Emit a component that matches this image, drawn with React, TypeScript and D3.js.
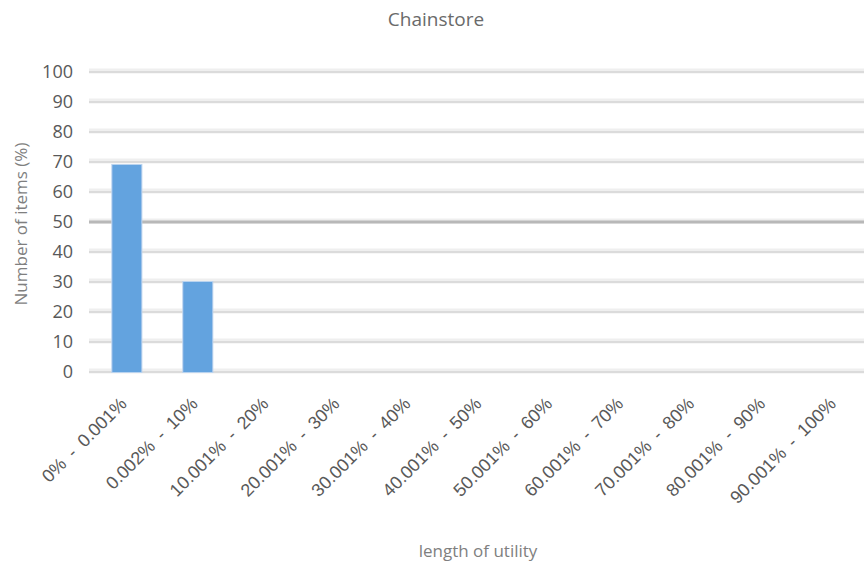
import React from "react";
import * as d3 from "d3";

const categories = [
  "0% - 0.001%",
  "0.002% - 10%",
  "10.001% - 20%",
  "20.001% - 30%",
  "30.001% - 40%",
  "40.001% - 50%",
  "50.001% - 60%",
  "60.001% - 70%",
  "70.001% - 80%",
  "80.001% - 90%",
  "90.001% - 100%",
];
const values = [69, 30, 0, 0, 0, 0, 0, 0, 0, 0, 0];
const yTicks = [0, 10, 20, 30, 40, 50, 60, 70, 80, 90, 100];

const W = 864;
const H = 567;
const font = "'Open Sans', 'Noto Sans', sans-serif";
const tickFont = "'Liberation Sans', Arial, sans-serif";

export default function App() {
  const x = d3
    .scaleBand<string>()
    .domain(categories)
    .range([91, 872])
    .paddingInner(0.59)
    .paddingOuter(0.3);
  const y = d3.scaleLinear().domain([0, 100]).range([372, 72]);
  const gridX0 = 89;

  return (
    <svg
      width={W}
      height={H}
      style={{ position: "absolute", left: 0, top: 0, background: "#fff" }}
    >
      <defs>
        <filter id="barGlow" x="-20%" y="-5%" width="140%" height="110%">
          <feMorphology operator="dilate" radius="1" in="SourceAlpha" result="d" />
          <feFlood floodColor="#b9d3ef" />
          <feComposite in2="d" operator="in" result="edge" />
          <feMerge>
            <feMergeNode in="edge" />
            <feMergeNode in="SourceGraphic" />
          </feMerge>
        </filter>
      </defs>
      <text
        x={436}
        y={26}
        textAnchor="middle"
        fontFamily={font}
        fontSize={19}
        fill="#6a6a6a"
      >
        Chainstore
      </text>

      {yTicks.map((t) => (
        <g key={t}>
          <line
            x1={gridX0}
            x2={W}
            y1={y(t) - 1}
            y2={y(t) - 1}
            stroke="#efefef"
            strokeWidth={5}
          />
          <line
            x1={gridX0}
            x2={W}
            y1={y(t)}
            y2={y(t)}
            stroke={t === 50 ? "#b8b8b8" : "#d4d4d4"}
            strokeWidth={t === 50 ? 3 : 1.5}
          />
          <text
            x={73}
            y={y(t) + 6}
            textAnchor="end"
            fontFamily={font}
            fontSize={18}
            fill="#595959"
          >
            {t}
          </text>
        </g>
      ))}

      {categories.map((c, i) =>
        values[i] > 0 ? (
          <rect
            key={c}
            x={x(c)}
            y={y(values[i])}
            width={x.bandwidth()}
            height={y(0) - y(values[i])}
            fill="#64a3df"
            filter="url(#barGlow)"
          />
        ) : null
      )}

      {categories.map((c) => {
        const cx = (x(c) as number) + x.bandwidth() / 2 + 1;
        return (
          <text
            key={c}
            transform={`translate(${cx},${405}) rotate(-45)`}
            textAnchor="end"
            fontFamily={tickFont}
            fontSize={18}
            wordSpacing={4}
            fill="#595959"
          >
            {c}
          </text>
        );
      })}

      <text
        transform={`translate(27,224) rotate(-90)`}
        textAnchor="middle"
        fontFamily={font}
        fontSize={17}
        fill="#7f7f7f"
      >
        Number of items (%)
      </text>
      <text
        x={478}
        y={557}
        textAnchor="middle"
        fontFamily={font}
        fontSize={17}
        fill="#7f7f7f"
      >
        length of utility
      </text>
    </svg>
  );
}
